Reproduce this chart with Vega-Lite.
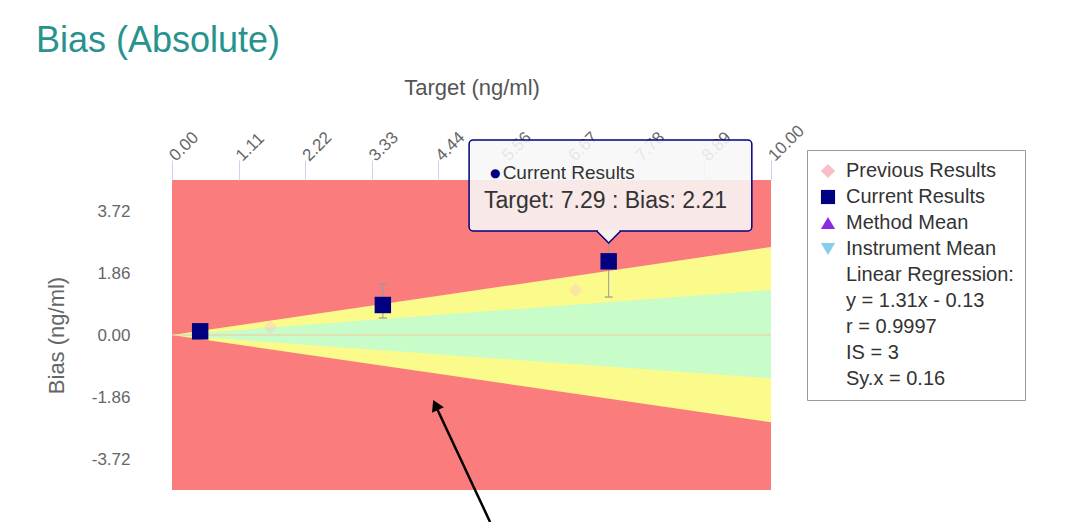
{
  "$schema": "https://vega.github.io/schema/vega-lite/v6.json",
  "width": 599,
  "height": 310,
  "autosize": {"type": "none"},
  "padding": {"left": 172, "top": 180, "right": 320, "bottom": 32},
  "background": "white",
  "view": {"fill": "#fa7c7c", "stroke": null},
  "title": {
    "text": "Bias (Absolute)",
    "anchor": "start",
    "frame": "group",
    "dx": -136,
    "offset": 17,
    "fontSize": 36,
    "fontWeight": "normal",
    "font": "Liberation Sans",
    "color": "#28938e"
  },
  "config": {
    "font": "Liberation Sans",
    "axis": {"labelFont": "Liberation Sans", "titleFont": "Liberation Sans"}
  },
  "encoding": {
    "x": {
      "field": "target",
      "type": "quantitative",
      "scale": {"domain": [0, 10], "nice": false, "zero": false},
      "axis": {
        "orient": "top",
        "title": "Target (ng/ml)",
        "values": [0, 1.1111111, 2.2222222, 3.3333333, 4.4444444, 5.5555556, 6.6666667, 7.7777778, 8.8888889, 10],
        "format": ".2f",
        "labelAngle": -45,
        "labelAlign": "left",
        "labelBaseline": "middle",
        "tickSize": 20,
        "tickColor": "#ccd6eb",
        "domain": false,
        "grid": false,
        "labelFontSize": 17,
        "labelColor": "#666666",
        "labelPadding": 2,
        "labelOverlap": false,
        "titleFontSize": 22,
        "titleFontWeight": "normal",
        "titleColor": "#555555",
        "titlePadding": 22
      }
    },
    "y": {
      "field": "bias",
      "type": "quantitative",
      "scale": {"domain": [-4.65, 4.65], "nice": false, "zero": false},
      "axis": {
        "title": "Bias (ng/ml)",
        "values": [-3.72, -1.86, 0, 1.86, 3.72],
        "labelExpr": "replace(format(datum.value, '.2f'), '\u2212', '-')",
        "ticks": false,
        "domain": false,
        "grid": false,
        "labelFontSize": 17,
        "labelColor": "#666666",
        "labelPadding": 42,
        "titleFontSize": 22,
        "titleFontWeight": "normal",
        "titleColor": "#666666",
        "titlePadding": 23
      }
    }
  },
  "layer": [
    {
      "data": {"values": [
        {"target": 0, "bias": 0, "lo": 0},
        {"target": 10, "bias": 2.64, "lo": -2.62}
      ]},
      "mark": {"type": "area", "color": "#fbfb8c", "opacity": 1},
      "encoding": {"y2": {"field": "lo"}}
    },
    {
      "data": {"values": [
        {"target": 0, "bias": 0, "lo": 0},
        {"target": 10, "bias": 1.35, "lo": -1.3}
      ]},
      "mark": {"type": "area", "color": "#c8fcc8", "opacity": 1},
      "encoding": {"y2": {"field": "lo"}}
    },
    {
      "data": {"values": [{"target": 0, "target2": 10, "bias": 0}]},
      "mark": {"type": "rule", "color": "#f6c69c", "strokeWidth": 1.2},
      "encoding": {"x2": {"field": "target2"}}
    },
    {
      "data": {"values": [
        {"target": 3.52, "bias": 1.53, "lo": 0.51},
        {"target": 7.29, "bias": 3.28, "lo": 1.14}
      ]},
      "mark": {"type": "rule", "color": "#999999", "strokeWidth": 1},
      "encoding": {"y2": {"field": "lo"}}
    },
    {
      "data": {"values": [
        {"target": 3.52, "bias": 1.53},
        {"target": 3.52, "bias": 0.51},
        {"target": 7.29, "bias": 1.14}
      ]},
      "mark": {"type": "tick", "orient": "horizontal", "color": "#999999", "size": 8, "thickness": 1.2, "opacity": 1}
    },
    {
      "data": {"values": [
        {"target": 1.64, "bias": 0.24},
        {"target": 6.74, "bias": 1.35}
      ]},
      "mark": {"type": "point", "filled": true, "size": 200, "shape": "diamond", "color": "#f8bfcb", "opacity": 0.35}
    },
    {
      "data": {"values": [
        {"series": "Current Results", "target": 0.47, "bias": 0.11},
        {"series": "Current Results", "target": 3.52, "bias": 0.9},
        {"series": "Current Results", "target": 7.29, "bias": 2.21}
      ]},
      "mark": {"type": "point", "filled": true, "size": 270, "opacity": 1},
      "encoding": {
        "color": {
          "field": "series",
          "type": "nominal",
          "scale": {
            "domain": ["Previous Results", "Current Results", "Method Mean", "Instrument Mean", "Linear Regression:", "y = 1.31x - 0.13", "r = 0.9997", "IS = 3", "Sy.x = 0.16"],
            "range": ["#f8bfcb", "#000080", "#8a2be2", "#87ceeb", "transparent", "transparent", "transparent", "transparent", "transparent"]
          },
          "legend": {
            "title": null,
            "orient": "none",
            "legendX": 635,
            "legendY": -30,
            "strokeColor": "#999999",
            "fillColor": "white",
            "padding": 11,
            "labelFontSize": 20,
            "labelColor": "#333333",
            "labelFont": "Liberation Sans",
            "labelLimit": 400,
            "symbolSize": 200,
            "symbolStrokeWidth": 0,
            "rowPadding": 6,
            "labelOffset": 8,
            "symbolOpacity": 1
          }
        },
        "shape": {
          "field": "series",
          "type": "nominal",
          "scale": {
            "domain": ["Previous Results", "Current Results", "Method Mean", "Instrument Mean", "Linear Regression:", "y = 1.31x - 0.13", "r = 0.9997", "IS = 3", "Sy.x = 0.16"],
            "range": ["diamond", "square", "triangle-up", "triangle-down", "circle", "circle", "circle", "circle", "circle"]
          },
          "legend": {"title": null}
        }
      }
    },
    {
      "data": {"values": [{"target": 4.96, "target2": 9.68, "bias": 5.85, "lo": 3.12}]},
      "mark": {"type": "rect", "fill": "#f7f7f7", "fillOpacity": 0.88, "stroke": "#000080", "strokeWidth": 1.5, "cornerRadius": 4},
      "encoding": {"x2": {"field": "target2"}, "y2": {"field": "lo"}}
    },
    {
      "data": {"values": [
        {"target": 7.09, "bias": 3.12, "lo": 3.12},
        {"target": 7.29, "bias": 3.12, "lo": 2.76},
        {"target": 7.49, "bias": 3.12, "lo": 3.12}
      ]},
      "mark": {"type": "area", "fill": "#f7eeee", "opacity": 1},
      "encoding": {"y2": {"field": "lo"}}
    },
    {
      "data": {"values": [{"target": 7.11, "target2": 7.47, "bias": 3.12}]},
      "mark": {"type": "rule", "color": "#f7eeee", "strokeWidth": 2.5},
      "encoding": {"x2": {"field": "target2"}}
    },
    {
      "data": {"values": [
        {"target": 7.09, "bias": 3.12, "k": 1},
        {"target": 7.29, "bias": 2.76, "k": 2},
        {"target": 7.49, "bias": 3.12, "k": 3}
      ]},
      "mark": {"type": "line", "color": "#000080", "strokeWidth": 1.5},
      "encoding": {"order": {"field": "k"}}
    },
    {
      "data": {"values": [{"target": 5.31, "bias": 4.87, "label": "●"}]},
      "mark": {"type": "text", "align": "left", "baseline": "middle", "fontSize": 12, "color": "#000080", "font": "DejaVu Sans"},
      "encoding": {"text": {"field": "label"}}
    },
    {
      "data": {"values": [{"target": 5.52, "bias": 4.87, "label": "Current Results"}]},
      "mark": {"type": "text", "align": "left", "baseline": "middle", "fontSize": 19, "color": "#333333", "font": "Liberation Sans"},
      "encoding": {"text": {"field": "label"}}
    },
    {
      "data": {"values": [{"target": 5.21, "bias": 4.03, "label": "Target: 7.29 : Bias: 2.21"}]},
      "mark": {"type": "text", "align": "left", "baseline": "middle", "fontSize": 23, "color": "#333333", "font": "Liberation Sans"},
      "encoding": {"text": {"field": "label"}}
    },
    {
      "data": {"values": [{"target": 5.31, "bias": -5.61, "target2": 4.39, "lo": -2.08}]},
      "mark": {"type": "rule", "color": "black", "strokeWidth": 2.5},
      "encoding": {"x2": {"field": "target2"}, "y2": {"field": "lo"}}
    },
    {
      "data": {"values": [{"target": 4.4, "bias": -2.1}]},
      "mark": {"type": "point", "shape": "triangle-up", "filled": true, "color": "black", "size": 170, "angle": -25, "opacity": 1}
    }
  ]
}
